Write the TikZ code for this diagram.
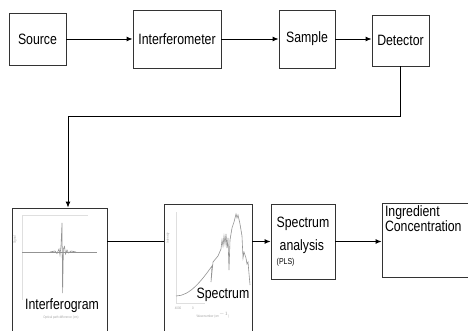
\documentclass[tikz,border=0pt]{standalone}
\usepackage{fontspec}
\setmainfont[FakeStretch=0.82]{Liberation Sans}
\usepackage{tikz}
\usetikzlibrary{arrows.meta,positioning,calc}

\begin{document}
\begin{tikzpicture}[x=1pt, y=-1pt,
  block/.style={rectangle, draw=black!80, line width=0.9pt, inner sep=2pt,
                text centered, font=\fontsize{15}{17}\selectfont},
  arrow/.style={-{Latex[length=6pt, width=5pt]}, line width=0.9pt, color=black},
  link/.style={line width=0.9pt, color=black},
  plotline/.style={color=gray!85, line width=0.6pt},
  plotframe/.style={color=gray!25, line width=0.5pt},
  big/.style={font=\fontsize{15}{17}\selectfont, inner sep=0pt},
  tiny/.style={font=\fontsize{3.5}{4}\selectfont, color=gray!70, inner sep=0pt}
]
  \useasboundingbox (0,0) rectangle (468,331);

  \node[block, minimum width=57, minimum height=52] (src) at (37.5,39) {Source};
  \node[block, minimum width=88, minimum height=58] (intf) at (177,39) {Interferometer};
  \node[block, minimum width=56, minimum height=58] (smp) at (307,39) {Sample};
  \node[block, minimum width=57, minimum height=51] (det) at (400.5,40.5) {Detector};

  \node[block, minimum width=95, minimum height=137] (igram) at (59.5,276.5) {};
  \node[block, minimum width=88, minimum height=141] (spec) at (208,274.5) {};
  \node[block, minimum width=64, minimum height=75, align=left] (anal) at (303,241.5)
    {Spectrum\\[6pt]\hspace*{3pt}analysis\\[-3pt]{\fontsize{8.5}{9}\selectfont (PLS)}};
  \node[block, minimum width=90, minimum height=74, inner sep=0pt] (ingr) at (427,240)
    {\parbox[t][68pt][t]{84pt}{Ingredient\\[-2pt]Concentration}};

  \coordinate (turn) at (68,116);

  \draw[arrow] (src.east) -- (src.east -| intf.west);
  \draw[arrow] (intf.east) -- (intf.east -| smp.west);
  \draw[arrow] (smp.east) -- (smp.east -| det.west);
  \draw[arrow] (det.south) |- (turn) -- (turn |- igram.north);
  \draw[link] (anal.west -| igram.east) -- (anal.west -| spec.west);
  \draw[arrow] (anal.west -| spec.east) -- (anal.west);
  \draw[arrow] (anal.east) -- (anal.east -| ingr.west);

  % interferogram plot
  \draw[plotframe] (22,300) -- (22,215) -- (88,215);
  \draw[plotline] (22,252) -- (97,252);
  \draw[plotline] (50,252) -- (55,251) -- (57,253.5) -- (59,249) -- (60,255) -- (61,246)
    -- (62,223) -- (62.6,293) -- (63.4,249) -- (64.5,246.5) -- (65.5,254) -- (67,250)
    -- (68.5,253) -- (71,251) -- (76,252);
  \node[tiny, rotate=90] (igramy) at (15,240) {Signal};
  \node[big] (igramlbl) at (62,306) {Interferogram};
  \node[tiny] (igramx) at (61,318) {Optical path difference (cm)};

  % spectrum plot
  \draw[plotframe] (176,303) -- (176,212);
  \draw[plotframe] (176,303) -- (205,303);
  \draw[plotline] (176,296) .. controls (190,296) and (202,280) .. (212,266)
    -- (211,282) -- (213,262) -- (218,256) -- (221,249) -- (222,240) -- (223,246)
    -- (224,236) -- (225,244) -- (226,234) -- (227,248) -- (228,238) -- (229,270)
    -- (230,240) -- (232,228) -- (234,222) -- (236,214) -- (237,218) -- (238,215)
    -- (240,224) -- (242,236) -- (243,258) -- (244,252) -- (246,258) -- (247,264)
    -- (248,262) -- (250,285);
  \node[tiny, rotate=90] (specy) at (168,238) {Intensity};
  \node[big] (speclbl) at (223,295) {Spectrum};
  \node[tiny] (spect1) at (178,308) {4000};
  \node[tiny] (spect2) at (193,308) {0};
  \node[tiny] (specx) at (213,315) {Wavenumber (cm$^{-1}$)};
\end{tikzpicture}
\end{document}
